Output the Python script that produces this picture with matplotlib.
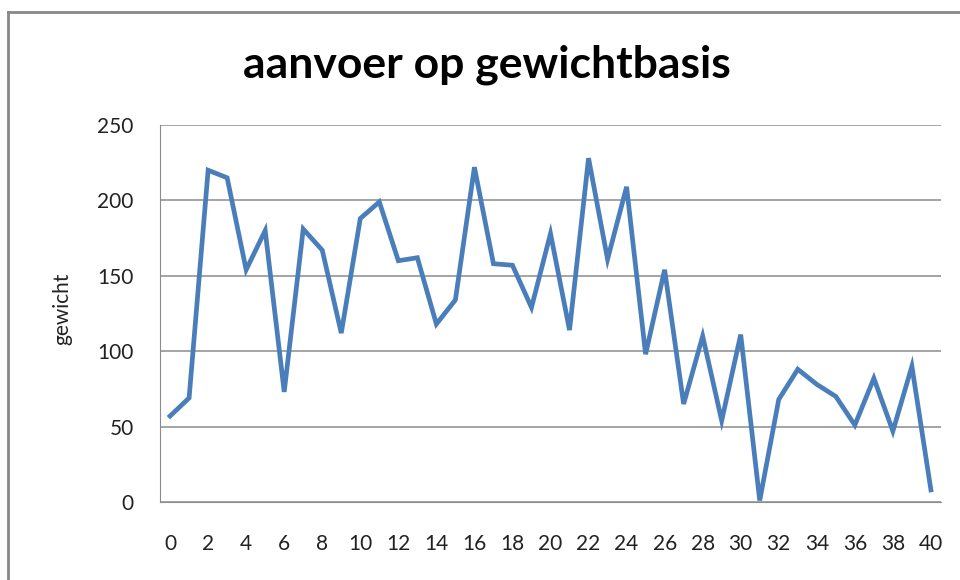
import matplotlib
matplotlib.use("Agg")
import matplotlib.pyplot as plt
from matplotlib.lines import Line2D

# data
weeks = list(range(0, 41))
gewicht = [57, 69, 220, 215, 154, 180, 73, 181, 167, 112,
           188, 199, 160, 162, 118, 134, 222, 158, 157, 129,
           178, 114, 228, 161, 209, 98, 154, 65, 110, 54,
           111, 1, 68, 88, 78, 70, 51, 82, 47, 90, 8]
y_ticks = [0, 50, 100, 150, 200, 250]
x_ticks = list(range(0, 41, 2))

plt.rcParams['font.family'] = ['Lato', 'DejaVu Sans']

fig = plt.figure(figsize=(9.6, 5.8), dpi=100)
ax = fig.add_axes([160 / 960, 78 / 580, 781 / 960, 377 / 580])

ax.plot(weeks, gewicht, color='#4A7EBB', lw=3.4, solid_joinstyle='miter')

ax.set_xlim(-0.53, 40.53)
ax.set_ylim(0, 250)
ax.set_xticks(x_ticks)
ax.set_yticks(y_ticks)
ax.grid(axis='y', color='#8c8c8c', lw=1.1)
ax.set_axisbelow(True)
for s in ['top', 'right']:
    ax.spines[s].set_visible(False)
ax.spines['left'].set_color('#8c8c8c')
ax.spines['bottom'].set_color('#8c8c8c')
ax.tick_params(axis='both', length=0, labelsize=15, colors='#222222')
ax.tick_params(axis='y', pad=19)
ax.tick_params(axis='x', pad=23)

# y axis title, placed like the Excel original
fig.text(62 / 960, 1 - 309 / 580, 'gewicht', rotation=90, ha='center', va='center',
         fontsize=15, color='#222222')

fig.text(487 / 960, 1 - 65 / 580, 'aanvoer op gewichtbasis', ha='center', va='center',
         fontsize=32, fontweight='bold', color='black')

# outer chart border (top and left edges visible)
fig.add_artist(Line2D([8 / 960, 8 / 960], [0, 1 - 12 / 580], transform=fig.transFigure,
                      color='#888888', lw=2))
fig.add_artist(Line2D([8 / 960, 1], [1 - 12 / 580, 1 - 12 / 580], transform=fig.transFigure,
                      color='#888888', lw=2))

fig.savefig('out.png', dpi=100)
